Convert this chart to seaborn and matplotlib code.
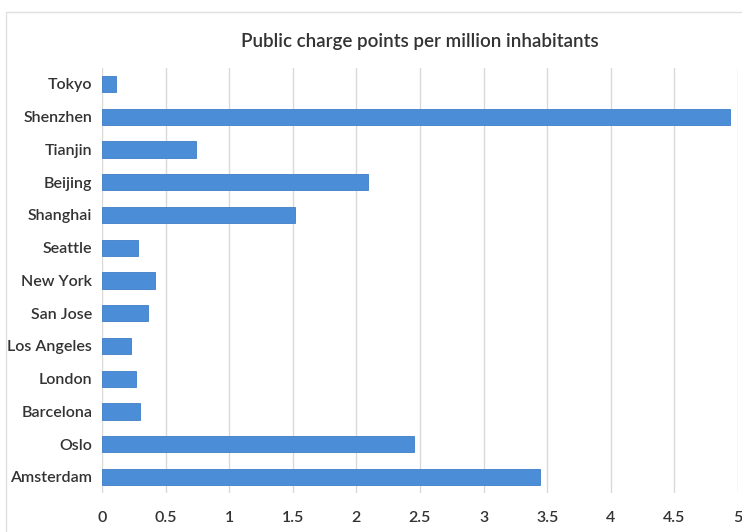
import matplotlib
matplotlib.use("Agg")
import matplotlib.pyplot as plt
from matplotlib.patches import Rectangle
import seaborn as sns
import pandas as pd

cities = ["Tokyo", "Shenzhen", "Tianjin", "Beijing", "Shanghai", "Seattle",
          "New York", "San Jose", "Los Angeles", "London", "Barcelona", "Oslo", "Amsterdam"]
values = [0.11, 4.94, 0.74, 2.09, 1.52, 0.28, 0.42, 0.36, 0.23, 0.27, 0.30, 2.45, 3.44]
xticks = [0, 0.5, 1, 1.5, 2, 2.5, 3, 3.5, 4, 4.5, 5]
xticklabels = ["0", "0.5", "1", "1.5", "2", "2.5", "3", "3.5", "4", "4.5", "5"]
title = "Public charge points per million inhabitants"

df = pd.DataFrame({"city": cities, "value": values})

sns.set_theme(style="white")
plt.rcParams['font.family'] = ['Lato', 'DejaVu Sans']

fig = plt.figure(figsize=(7.42, 5.32), dpi=100)
ax = fig.add_axes([0.1375, 0.0726, 0.8571, 0.8004])

# outer chart frame
fig.patches.append(Rectangle((6 / 742, -0.01), 1.0, 1 - 12 / 532 + 0.01,
                             transform=fig.transFigure, fill=False,
                             edgecolor="#e0e0e0", linewidth=1.0, zorder=0))

sns.barplot(data=df, y="city", x="value", orient="h", color="#4C8DD8",
            width=0.5, ax=ax, saturation=1, edgecolor="#3f7ec6", linewidth=0.6, zorder=3)

ax.set_xlim(0, 5)
ax.set_xticks(xticks)
ax.set_xticklabels(xticklabels)
ax.xaxis.grid(True, color="#d9d9d9", linewidth=1.0, zorder=0)
ax.set_axisbelow(True)
for s in ax.spines.values():
    s.set_visible(False)
ax.tick_params(axis="both", length=0)
ax.tick_params(axis="x", pad=13, labelsize=11.5, labelcolor="#333333")
ax.tick_params(axis="y", pad=7, labelsize=11.5, labelcolor="#333333")
for lbl in ax.get_xticklabels() + ax.get_yticklabels():
    lbl.set_fontweight("semibold")
ax.set_xlabel("")
ax.set_ylabel("")
fig.text(0.566, 1 - 41 / 532, title, ha="center", va="center",
         fontsize=13.5, color="#333333", fontweight="semibold")

fig.savefig("out.png", dpi=100)
